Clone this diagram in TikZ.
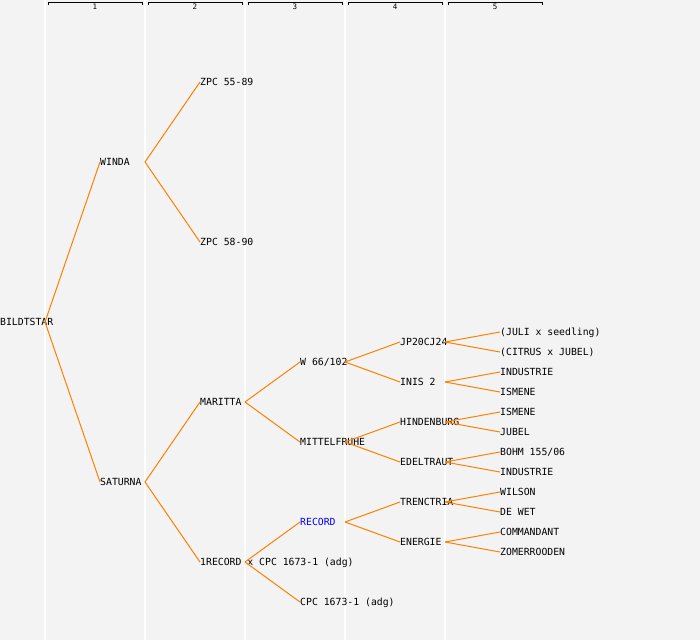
\documentclass[tikz,border=0pt]{standalone}
\usepackage{fontspec}
\setmonofont{DejaVu Sans Mono}
\definecolor{pedline}{RGB}{255,128,0}
\definecolor{pedback}{RGB}{243,243,243}
\definecolor{pedblue}{RGB}{0,0,255}
\begin{document}
\begin{tikzpicture}[x=1pt,y=-1pt,
	plant/.style={anchor=west,inner sep=0pt,font=\ttfamily\fontsize{9.8}{10}\selectfont,text height=7.2pt,text depth=0pt},
	link/.style={draw=pedline,line width=1pt}]
	\fill[pedback] (0,0) rectangle (700,640);
	\useasboundingbox (0,0) rectangle (700,640);
	\foreach \x in {45,145,245,345,445}
		\draw[white,line width=1.2pt] (\x,0) -- (\x,640);
	\foreach \i in {1,...,5} {
		\pgfmathsetmacro{\gx}{45+100*(\i-1)}
		\draw[line width=1pt] (\gx+3,5) -- (\gx+3,2) -- (\gx+97,2) -- (\gx+97,5);
		\node[font=\ttfamily\fontsize{7.5}{8}\selectfont,inner sep=0pt] (g\i) at (\gx+50,7) {\i};
	}

	\node[plant] (bildtstar) at (0,322) {BILDTSTAR};
	\node[plant] (winda) at (100,162) {WINDA};
	\node[plant] (saturna) at (100,482) {SATURNA};
	\node[plant] (zpcA) at (200,82) {ZPC 55-89};
	\node[plant] (zpcB) at (200,242) {ZPC 58-90};
	\node[plant] (maritta) at (200,402) {MARITTA};
	\node[plant] (recordx) at (200,562) {1RECORD x CPC 1673-1 (adg)};
	\node[plant] (w66) at (300,362) {W 66/102};
	\node[plant] (mittel) at (300,442) {MITTELFRUHE};
	\node[plant,text=pedblue] (record) at (300,522) {RECORD};
	\node[plant] (cpc) at (300,602) {CPC 1673-1 (adg)};
	\node[plant] (jp20) at (400,342) {JP20CJ24};
	\node[plant] (inis) at (400,382) {INIS 2};
	\node[plant] (hinden) at (400,422) {HINDENBURG};
	\node[plant] (edel) at (400,462) {EDELTRAUT};
	\node[plant] (trenc) at (400,502) {TRENCTRIA};
	\node[plant] (energie) at (400,542) {ENERGIE};
	\node[plant] (juli) at (500,332) {(JULI x seedling)};
	\node[plant] (citrus) at (500,352) {(CITRUS x JUBEL)};
	\node[plant] (indusA) at (500,372) {INDUSTRIE};
	\node[plant] (ismeneA) at (500,392) {ISMENE};
	\node[plant] (ismeneB) at (500,412) {ISMENE};
	\node[plant] (jubel) at (500,432) {JUBEL};
	\node[plant] (bohm) at (500,452) {BOHM 155/06};
	\node[plant] (indusB) at (500,472) {INDUSTRIE};
	\node[plant] (wilson) at (500,492) {WILSON};
	\node[plant] (dewet) at (500,512) {DE WET};
	\node[plant] (command) at (500,532) {COMMANDANT};
	\node[plant] (zomer) at (500,552) {ZOMERROODEN};

	\draw[link] ([xshift=45pt]bildtstar.west) -- (winda.west);
	\draw[link] ([xshift=45pt]bildtstar.west) -- (saturna.west);
	\draw[link] ([xshift=45pt]winda.west) -- (zpcA.west);
	\draw[link] ([xshift=45pt]winda.west) -- (zpcB.west);
	\draw[link] ([xshift=45pt]saturna.west) -- (maritta.west);
	\draw[link] ([xshift=45pt]saturna.west) -- (recordx.west);
	\draw[link] ([xshift=45pt]maritta.west) -- (w66.west);
	\draw[link] ([xshift=45pt]maritta.west) -- (mittel.west);
	\draw[link] ([xshift=45pt]recordx.west) -- (record.west);
	\draw[link] ([xshift=45pt]recordx.west) -- (cpc.west);
	\draw[link] ([xshift=45pt]w66.west) -- (jp20.west);
	\draw[link] ([xshift=45pt]w66.west) -- (inis.west);
	\draw[link] ([xshift=45pt]mittel.west) -- (hinden.west);
	\draw[link] ([xshift=45pt]mittel.west) -- (edel.west);
	\draw[link] ([xshift=45pt]record.west) -- (trenc.west);
	\draw[link] ([xshift=45pt]record.west) -- (energie.west);
	\draw[link] ([xshift=45pt]jp20.west) -- (juli.west);
	\draw[link] ([xshift=45pt]jp20.west) -- (citrus.west);
	\draw[link] ([xshift=45pt]inis.west) -- (indusA.west);
	\draw[link] ([xshift=45pt]inis.west) -- (ismeneA.west);
	\draw[link] ([xshift=45pt]hinden.west) -- (ismeneB.west);
	\draw[link] ([xshift=45pt]hinden.west) -- (jubel.west);
	\draw[link] ([xshift=45pt]edel.west) -- (bohm.west);
	\draw[link] ([xshift=45pt]edel.west) -- (indusB.west);
	\draw[link] ([xshift=45pt]trenc.west) -- (wilson.west);
	\draw[link] ([xshift=45pt]trenc.west) -- (dewet.west);
	\draw[link] ([xshift=45pt]energie.west) -- (command.west);
	\draw[link] ([xshift=45pt]energie.west) -- (zomer.west);
\end{tikzpicture}
\end{document}
